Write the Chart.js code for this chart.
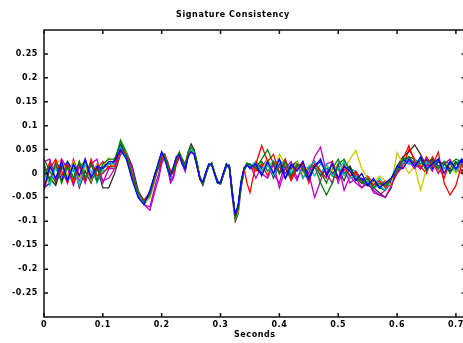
<!DOCTYPE html>
<html>
<head>
<meta charset="utf-8">
<title>Signature Consistency</title>
<script src="https://cdn.jsdelivr.net/npm/chart.js@4.4.0/dist/chart.umd.min.js"></script>
<style>
    html, body { margin: 0; padding: 0; background: #fff; overflow: hidden; }
    #wrap { position: relative; width: 466px; height: 343px; }
</style>
</head>
<body>
<div id="wrap"><canvas id="chart"></canvas></div>
<script>
// sample times (s): coarse, dense around the main feature, coarse again
const TIME_A = [0, 0.01, 0.02, 0.03, 0.04, 0.05, 0.06, 0.07, 0.08, 0.09, 0.1, 0.11, 0.12, 0.13, 0.14, 0.15, 0.16, 0.17, 0.18, 0.19];
const TIME_B = [0.195, 0.2, 0.205, 0.21, 0.215, 0.22, 0.225, 0.23, 0.235, 0.24, 0.245, 0.25, 0.255, 0.26, 0.265, 0.27, 0.275, 0.28, 0.285, 0.29, 0.295, 0.3, 0.305, 0.31, 0.315, 0.32, 0.325, 0.33, 0.335, 0.34, 0.345, 0.35];
const TIME_C = [0.36, 0.37, 0.38, 0.39, 0.4, 0.41, 0.42, 0.43, 0.44, 0.45, 0.46, 0.47, 0.48, 0.49, 0.5, 0.51, 0.52, 0.53, 0.54, 0.55, 0.56, 0.57, 0.58, 0.59, 0.6, 0.61, 0.62, 0.63, 0.64, 0.65, 0.66, 0.67, 0.68, 0.69, 0.7, 0.71, 0.72];

const SIG_01 = [-.03, .015, -.01, .025, -.015, .02, -.005, .03, -.01, .015, .01, .025, .025, .05, .03, -.015, -.05, -.065, -.035, .005,
    .025, .045, .03, .01, -.005, .015, .035, .04, .02, .01, .035, .045, .04, .015, -.012, -.018, .002, .02, .018, -.002, -.02, -.018, .002, .02, .012, -.045, -.085, -.065, -.015, .012, .018, .012,
    .02, -.005, .025, 0, .03, -.01, .02, .005, .025, -.01, .015, .03, -.005, .02, -.01, .015, .005, -.015, 0, -.025, -.01, -.03, -.02, -.01, .015, .01, .03, .015, .035, .01, .02, .03, 0, .025, .01, .03, .005];
const SIG_02 = [.02, -.015, .02, -.02, .015, -.01, .025, -.01, .02, -.015, .02, .03, .03, .065, .04, -.005, -.04, -.058, -.045, -.005,
    .015, .038, .04, .02, 0, .005, .03, .045, .03, .015, .045, .055, .05, .025, -.008, -.022, -.002, .015, .022, .002, -.015, -.022, -.003, .015, .018, -.035, -.092, -.075, -.025, .008, .022, .018,
    .01, .03, .05, .02, 0, .025, -.005, .02, .01, -.01, .015, -.02, -.045, -.02, .02, .03, .005, -.01, -.02, -.01, -.03, -.02, -.025, -.01, .005, .03, .035, .015, .03, .005, .025, .01, .025, 0, .02, .03, .015];
const SIG_03 = [-.035, .01, .03, -.005, .02, -.02, .025, -.015, .03, -.005, 0, .015, .015, .05, .04, -.005, -.04, -.055, -.04, .005,
    .01, .03, .04, .025, .005, 0, .02, .035, .03, .015, .04, .045, .04, .015, -.01, -.02, .002, .016, .02, .002, -.016, -.02, .002, .016, .015, -.04, -.088, -.07, -.02, .01, -.02, -.04,
    .02, .058, .025, .04, 0, .03, -.01, .015, .02, -.015, .02, .005, -.01, .025, -.01, .015, -.005, 0, -.02, -.01, -.025, -.015, -.03, -.01, .005, .03, .058, .025, .01, .035, .015, .045, -.02, -.045, -.025, .02, -.01];
const SIG_04 = [.01, -.025, .015, .02, -.015, .01, -.025, .02, .005, -.015, .01, .02, .02, .055, .03, -.01, -.048, -.065, -.042, .002,
    .02, .042, .035, .012, -.008, .01, .032, .042, .025, .01, .04, .052, .042, .018, -.01, -.02, 0, .018, .02, -.002, -.02, -.02, 0, .02, .015, -.04, -.09, -.068, -.02, .01, .02, .015,
    .025, .005, .02, -.005, .015, .03, 0, .02, -.01, .015, .025, 0, .02, -.005, .01, .025, -.01, -.005, -.02, -.015, -.03, -.025, -.035, -.01, .01, .025, .02, .03, .01, .025, .015, .03, .01, .025, .005, .02, .015];
const SIG_05 = [.025, .03, -.015, .03, .01, -.025, .015, -.02, .02, .03, -.02, .01, .01, .045, .04, .01, -.045, -.065, -.077, -.03,
    -.01, .02, .035, .01, -.02, -.01, .02, .035, .02, .005, .04, .048, .042, .015, -.012, -.022, -.002, .015, .02, 0, -.018, -.022, -.002, .016, .012, -.045, -.09, -.072, -.025, .005, .02, .015,
    .015, 0, -.01, .02, -.03, .01, .025, -.01, .015, 0, .035, .055, 0, -.02, .02, -.035, -.005, -.02, -.03, -.015, -.04, -.045, -.05, -.025, 0, .02, .025, .01, .03, .015, .025, 0, .02, .03, .005, .02, .01];
const SIG_06 = [-.005, -.02, .02, .03, -.005, .025, -.01, .015, -.015, .02, .015, .033, .01, .045, .045, 0, -.04, -.065, -.05, -.005,
    .025, .04, .03, .015, 0, .015, .035, .045, .025, .015, .045, .05, .045, .02, -.012, -.02, 0, .016, .02, 0, -.02, -.02, 0, .018, .015, -.04, -.095, -.08, -.02, .01, .022, .015,
    .02, .005, .03, 0, .04, .02, .005, .025, 0, .015, .02, 0, .015, .005, .02, .01, .03, .048, .01, -.01, -.02, -.005, -.015, -.025, .044, .02, 0, .015, -.035, .01, .02, .005, .025, .015, 0, .02, .025];
const SIG_07 = [.01, -.01, -.025, .015, -.01, .02, -.03, .005, -.02, .015, -.03, -.03, 0, .04, .045, .015, -.035, -.06, -.05, -.005,
    .02, .04, .04, .02, .005, .01, .03, .04, .03, .02, .045, .062, .05, .022, -.012, -.025, -.002, .018, .022, 0, -.02, -.022, -.002, .018, .012, -.05, -.1, -.085, -.03, .005, .02, .02,
    .01, 0, .025, -.01, .02, 0, .015, .025, -.01, .01, .02, -.005, .015, 0, .01, -.015, .015, -.01, -.02, -.025, -.03, -.04, -.05, -.03, .015, .035, .045, .06, .04, .015, .03, .005, .02, .01, .025, .005, .02];
const SIG_08 = [-.03, -.02, .02, -.015, .025, .005, .02, -.01, .025, -.015, .015, .02, .025, .06, .035, -.01, -.045, -.06, -.04, 0,
    .025, .045, .035, .01, -.01, .01, .035, .04, .02, .005, .038, .05, .045, .02, -.008, -.018, .002, .018, .018, 0, -.016, -.02, 0, .02, .016, -.038, -.088, -.068, -.018, .01, .018, .01,
    .025, .01, .02, -.005, .015, -.01, .01, .025, .005, -.015, .015, .025, 0, .02, -.01, .01, .015, -.015, -.01, -.025, -.015, -.03, -.02, -.015, .01, .03, .02, .025, .01, .03, .01, .025, .02, .005, .02, .025, 0];
const SIG_09 = [.03, .005, -.02, .01, .025, -.01, .015, .025, -.01, .005, .015, .02, .02, .07, .045, -.005, -.045, -.062, -.045, 0,
    .02, .04, .038, .018, -.002, .012, .03, .038, .025, .01, .042, .052, .045, .02, -.01, -.02, 0, .018, .02, 0, -.018, -.02, 0, .018, .015, -.04, -.09, -.07, -.02, .01, .02, .015,
    .015, .025, .005, .02, .03, .01, -.01, .02, .015, -.01, .025, .005, -.02, .01, .03, 0, .01, -.005, -.015, -.025, -.02, -.03, -.035, -.015, .005, .025, .035, .03, .02, .025, .03, .015, .025, .02, .03, .025, .02];
const SIG_10 = [-.01, .025, -.015, .02, -.02, .03, -.005, .02, -.015, .01, .025, .01, .03, .06, .04, -.01, -.045, -.06, -.04, .005,
    .015, .035, .04, .02, 0, .005, .025, .04, .03, .015, .04, .05, .045, .02, -.01, -.02, 0, .018, .02, 0, -.018, -.02, 0, .018, .015, -.04, -.09, -.07, -.02, .01, .02, .015,
    .005, .02, -.005, .025, 0, .015, -.015, .01, .025, -.02, .025, 0, .015, -.005, -.01, .02, -.005, .005, -.015, -.005, -.02, -.025, -.015, -.02, 0, .015, .05, .03, .015, 0, .035, .015, -.01, .025, .01, 0, .025];
const SIG_11 = [-.015, .02, .01, -.015, .02, -.01, .015, .005, .02, -.02, .005, .01, .015, .05, .04, -.005, -.04, -.058, -.04, .005,
    .02, .04, .032, .012, -.005, .012, .03, .04, .022, .01, .04, .05, .045, .02, -.01, -.02, 0, .018, .02, 0, -.018, -.02, 0, .018, .015, -.04, -.088, -.07, -.02, .01, .02, .015,
    .02, .005, .015, .025, .005, .01, 0, .02, .005, .015, -.005, .02, .01, 0, .015, -.005, .01, .005, -.015, -.02, -.025, -.01, -.025, -.015, .015, .02, .03, .015, .025, .02, .01, .025, .02, .01, .025, .015, .005];
const SIG_12 = [.02, -.015, .025, .005, -.02, .02, -.015, .03, -.005, .02, -.015, -.01, .01, .05, .04, 0, -.05, -.065, -.07, -.02,
    0, .025, .035, .015, -.015, -.005, .025, .035, .02, .008, .042, .05, .045, .02, -.01, -.02, 0, .018, .02, 0, -.02, -.022, -.002, .016, .015, -.042, -.09, -.072, -.022, .008, .02, .018,
    -.01, .015, .03, 0, -.02, .025, .01, -.015, .02, 0, -.05, -.015, .02, .025, -.02, .01, -.02, -.01, -.03, -.02, -.035, -.045, -.035, -.02, 0, .02, .035, .02, .01, .025, .005, .03, .01, .02, .01, .025, .005];

const SIGNALS = [SIG_01, SIG_02, SIG_03, SIG_04, SIG_05, SIG_06, SIG_07, SIG_08, SIG_09, SIG_10, SIG_11, SIG_12];
const SERIES_COLORS = ['#0000ff', '#008000', '#ff0000', '#00bfbf', '#bf00bf', '#c8c800', '#303030',
                       '#0000ff', '#008000', '#ff0000', '#00bfbf', '#bf00bf'];

const X_TICKS = [0, 0.1, 0.2, 0.3, 0.4, 0.5, 0.6, 0.7];
const Y_TICKS = [-0.25, -0.2, -0.15, -0.1, -0.05, 0, 0.05, 0.1, 0.15, 0.2, 0.25];

const TIME = TIME_A.concat(TIME_B, TIME_C);
const TICK_LEN = 4;
const FONT = { family: 'DejaVu Sans', size: 8, weight: 'bold' };

function fmt(v) {
    return String(Math.round(v * 100) / 100);
}

// MATLAB style box with inward ticks on every side
const frameAndTicks = {
    id: 'frameAndTicks',
    beforeDraw(chart) {
        chart.ctx.letterSpacing = '0.6px';
    },
    afterDatasetsDraw(chart) {
        const { ctx, chartArea: a, scales } = chart;
        ctx.save();
        ctx.strokeStyle = '#111';
        ctx.lineWidth = 1.5;
        ctx.strokeRect(a.left, a.top, a.right - a.left, a.bottom - a.top);
        ctx.beginPath();
        X_TICKS.forEach(v => {
            const px = scales.x.getPixelForValue(v);
            ctx.moveTo(px, a.bottom); ctx.lineTo(px, a.bottom - TICK_LEN);
            ctx.moveTo(px, a.top); ctx.lineTo(px, a.top + TICK_LEN);
        });
        Y_TICKS.forEach(v => {
            const py = scales.y.getPixelForValue(v);
            ctx.moveTo(a.left, py); ctx.lineTo(a.left + TICK_LEN, py);
            ctx.moveTo(a.right, py); ctx.lineTo(a.right - TICK_LEN, py);
        });
        ctx.stroke();
        ctx.restore();
    }
};

const datasets = SIGNALS.map((sig, i) => ({
    label: 'Signature ' + (i + 1),
    data: sig.map((v, j) => ({ x: TIME[j], y: v })),
    borderColor: SERIES_COLORS[i],
    borderWidth: 1.3,
    pointRadius: 0,
    tension: 0,
    fill: false
}));

new Chart(document.getElementById('chart').getContext('2d'), {
    type: 'line',
    data: { datasets: datasets },
    options: {
        responsive: true,
        maintainAspectRatio: false,
        animation: false,
        layout: { padding: 0 },
        plugins: {
            legend: { display: false },
            tooltip: { enabled: false },
            title: {
                display: true,
                text: 'Signature Consistency',
                color: '#000',
                font: FONT,
                padding: { top: 10, bottom: 10.4 }
            }
        },
        scales: {
            x: {
                type: 'linear',
                min: 0,
                max: 0.7165,
                grid: { display: false, drawTicks: false },
                border: { display: false },
                ticks: {
                    stepSize: 0.1,
                    includeBounds: false,
                    autoSkip: false,
                    maxRotation: 0,
                    padding: 3,
                    color: '#000',
                    font: FONT,
                    callback: v => fmt(v)
                },
                title: {
                    display: true,
                    text: 'Seconds',
                    color: '#000',
                    font: FONT,
                    padding: { top: 0, bottom: 3 }
                },
                afterFit: s => { s.height = 26; }
            },
            y: {
                type: 'linear',
                min: -0.3,
                max: 0.3,
                grid: { display: false, drawTicks: false },
                border: { display: false },
                ticks: {
                    stepSize: 0.05,
                    autoSkip: false,
                    padding: 6,
                    color: '#000',
                    font: FONT,
                    callback: v => Math.abs(v) > 0.29 ? '' : fmt(v)
                },
                afterFit: s => { s.width = 44; }
            }
        }
    },
    plugins: [frameAndTicks]
});
</script>
</body>
</html>
